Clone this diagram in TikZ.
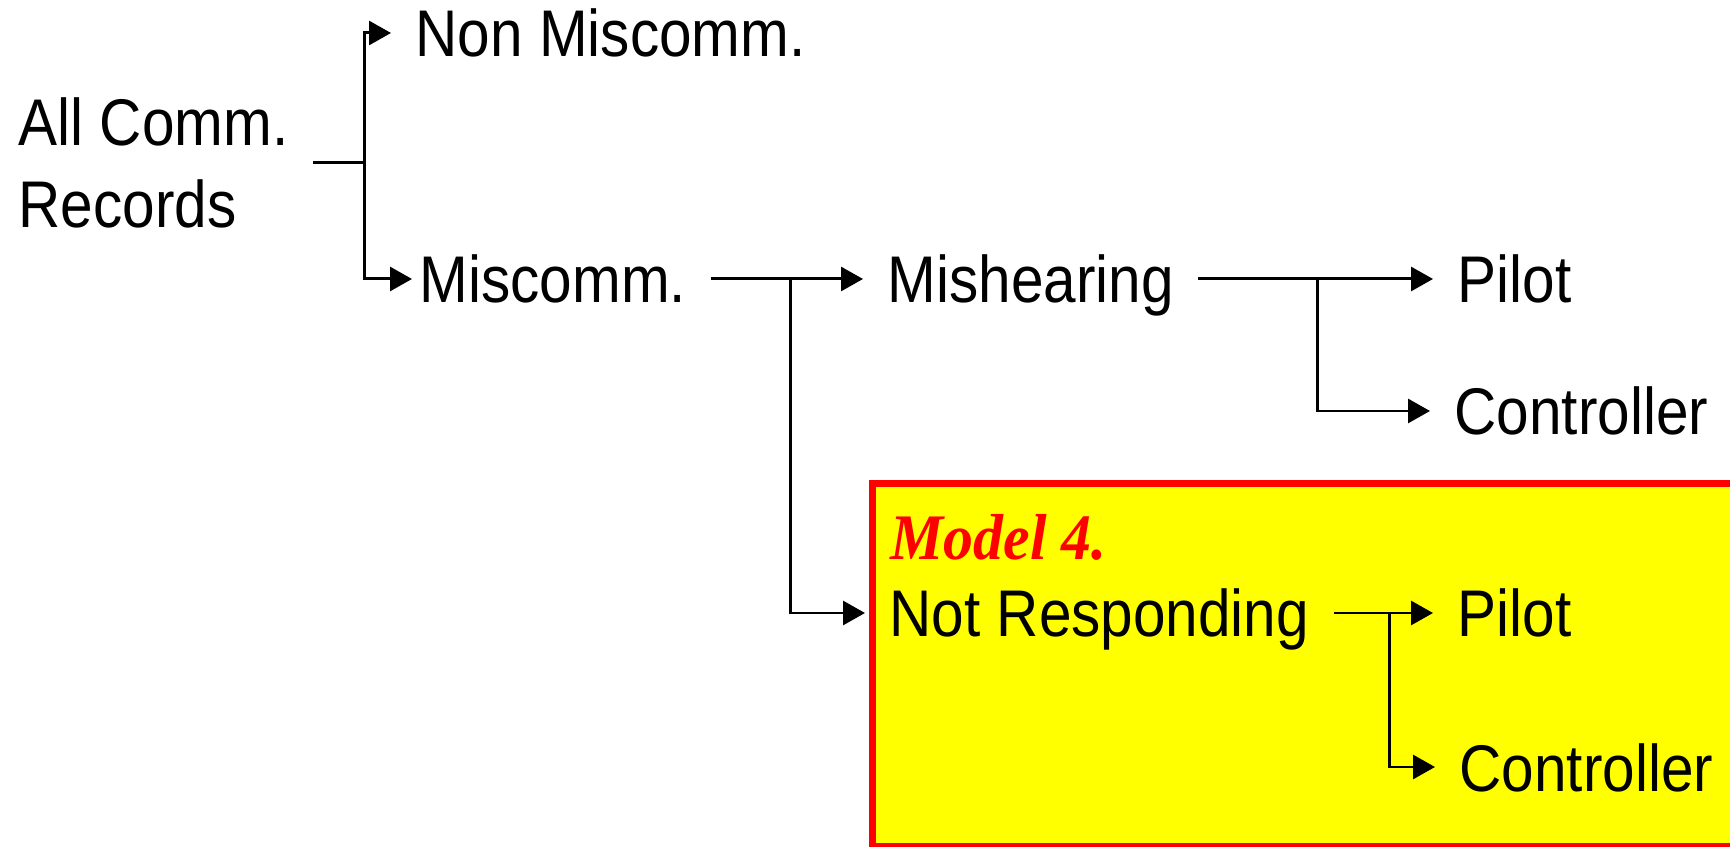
\documentclass[tikz,border=0pt]{standalone}
\usepackage{fontspec}
\setmainfont{Liberation Sans}[FakeStretch=0.886]
\newfontfamily\modelfont{Liberation Serif}[FakeStretch=0.92]
\usepackage{tikz}
\usetikzlibrary{arrows.meta}
\definecolor{modelyellow}{RGB}{255,255,0}
\definecolor{modelred}{RGB}{255,0,0}
\tikzset{
    leaf/.style={anchor=base west, inner xsep=0.24cm, inner ysep=0pt, text height=0.48cm, text depth=0pt, font=\fontsize{18.78pt}{23.33pt}\selectfont},
    root/.style={anchor=west, align=left, inner xsep=0.24cm, inner ysep=0pt, font=\fontsize{18.78pt}{23.33pt}\selectfont},
    stem/.style={line width=0.85pt},
    branch/.style={line width=0.85pt, -{Triangle[length=2.2mm, width=2.4mm]}},
}

\begin{document}
\begin{tikzpicture}
    \useasboundingbox (0,0) rectangle (17.3,8.46);

    % Highlighted model
    \draw[line width=0.07cm, draw=modelred, fill=modelyellow] (8.725,3.625) rectangle (17.65,-0.005);
    \node[anchor=base west, inner sep=0pt, text=modelred, font=\modelfont\bfseries\itshape\fontsize{18.49pt}{22pt}\selectfont] (model) at (8.90,2.86) {Model 4.};

    % Categories
    \node[root] (all) at (-0.06,6.83) {All Comm.\\Records};
    \node[leaf] (non) at (3.91,7.89) {Non Miscomm.};
    \node[leaf] (mis) at (3.95,5.43) {Miscomm.};
    \node[leaf] (mish) at (8.63,5.43) {Mishearing};
    \node[leaf] (pilotA) at (14.33,5.43) {Pilot};
    \node[leaf] (ctrlA) at (14.30,4.11) {Controller};
    \node[leaf] (notr) at (8.65,2.09) {Not Responding};
    \node[leaf] (pilotB) at (14.33,2.09) {Pilot};
    \node[leaf] (ctrlB) at (14.35,0.55) {Controller};

    % Junctions
    \coordinate (j1) at (3.64,6.83);
    \coordinate (j2) at (7.90,5.67);
    \coordinate (j3) at (13.17,5.67);
    \coordinate (j4) at (13.89,2.33);

    % Split of all records
    \draw[stem] (all.east) -- (all.east -| j1);
    \draw[branch] (j1) |- (non.west);
    \draw[branch, shorten >=-0.17cm] (j1) |- (mis.west);

    % Split of miscommunications
    \draw[branch] (mis.east) -- (mish.west);
    \draw[branch] (j2) |- (notr.west);

    % Who misheard / who did not respond
    \draw[branch] (mish.east) -- (pilotA.west);
    \draw[branch] (j3) |- (ctrlA.west);
    \draw[branch] (notr.east) -- (pilotB.west);
    \draw[branch] (j4) |- (ctrlB.west);
\end{tikzpicture}
\end{document}
